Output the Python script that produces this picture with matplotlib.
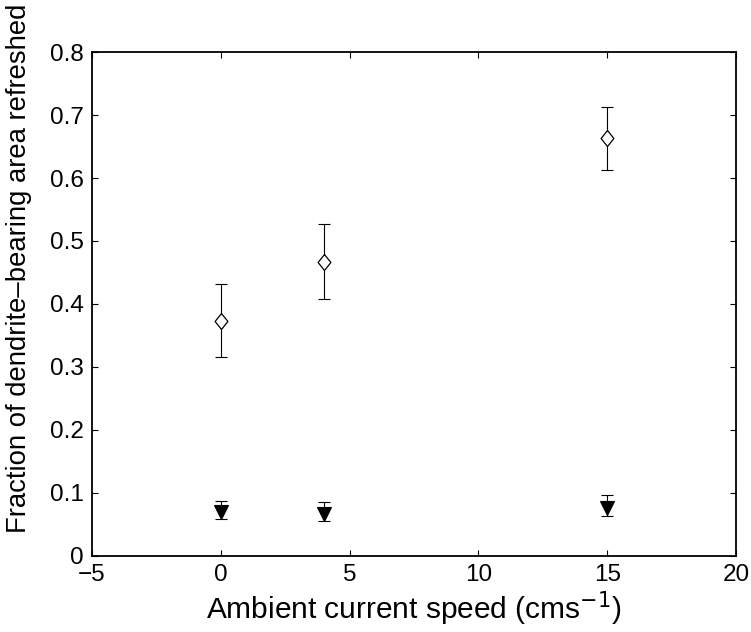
import matplotlib
matplotlib.use("Agg")
import matplotlib.pyplot as plt

plt.rcParams['font.family'] = ['Liberation Sans', 'DejaVu Sans']

# current speed (cm/s)
speed = [0, 4, 15]

# open diamonds
frac_open = [0.373, 0.467, 0.664]
err_open_lo = [0.057, 0.059, 0.051]
err_open_hi = [0.058, 0.060, 0.048]

# filled triangles
frac_fill = [0.070, 0.067, 0.076]
err_fill_lo = [0.011, 0.011, 0.0125]
err_fill_hi = [0.017, 0.019, 0.020]

xticks = [-5, 0, 5, 10, 15, 20]
yticks = [0, 0.1, 0.2, 0.3, 0.4, 0.5, 0.6, 0.7, 0.8]

diamond = [(0, 1), (0.8, 0), (0, -1), (-0.8, 0), (0, 1)]

fig = plt.figure(figsize=(7.51, 6.32), dpi=100)
ax = fig.add_axes([0.1225, 0.1203, 0.8575, 0.7974])

ax.errorbar(speed, frac_open, yerr=[err_open_lo, err_open_hi], fmt='none',
            ecolor='black', elinewidth=0.8, capsize=4, capthick=0.8, zorder=2)
ax.plot(speed, frac_open, linestyle='none', marker=diamond, markersize=11.5,
        markerfacecolor='white', markeredgecolor='black', markeredgewidth=0.9, zorder=3)

ax.errorbar(speed, frac_fill, yerr=[err_fill_lo, err_fill_hi], fmt='none',
            ecolor='black', elinewidth=0.8, capsize=4, capthick=0.8, zorder=2)
ax.plot(speed, frac_fill, linestyle='none', marker='v', markersize=9.5,
        markerfacecolor='black', markeredgecolor='black', markeredgewidth=0.8, zorder=3)

ax.set_xlim(-5, 20)
ax.set_ylim(0, 0.8)
ax.set_xticks(xticks)
ax.set_yticks(yticks)
ax.set_xticklabels([str(t).replace('-', '\u2212') for t in xticks])
ax.set_yticklabels(['0'] + [f'{t:.1f}' for t in yticks[1:]])

ax.tick_params(direction='in', length=4.5, width=0.8, top=True, right=True,
               labelsize=17.5, pad=6)
for s in ax.spines.values():
    s.set_linewidth(1.3)

ax.set_xlabel(r'Ambient current speed (cms$^{-1}$)', fontsize=21.5, labelpad=2)
ax.set_ylabel('Fraction of dendrite\u2013bearing area refreshed', fontsize=19.8)
ax.yaxis.set_label_coords(-0.093, 0.571)

fig.savefig("out.png", dpi=100)
